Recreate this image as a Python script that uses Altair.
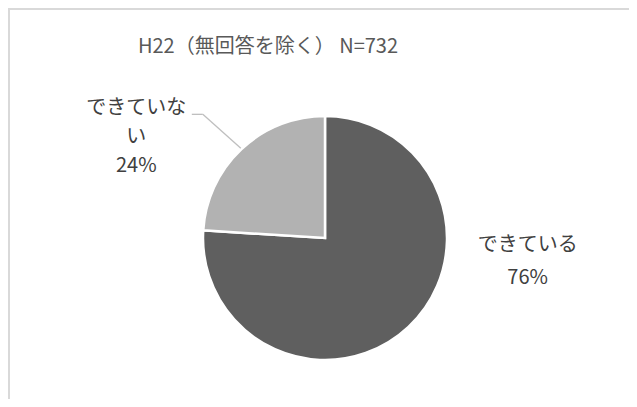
import altair as alt
import pandas as pd

# ---- data ----
categories = ["できている", "できていない"]
values = [76, 24]
label_texts = ["できている", "できていな\nい"]
orders = [0, 1]
colors = ["#5f5f5f", "#b2b2b2"]
title_text = "H22（無回答を除く） N=732"

df = pd.DataFrame({"category": categories, "value": values,
                   "label": label_texts, "order": orders})

# ---- layout / style ----
W, H = 621, 391
CX, CY, R = 317, 230, 122
FONT = "Noto Sans CJK JP"
LABEL_COLOR = "#404040"

base = alt.Chart(df).transform_joinaggregate(
    total="sum(value)"
).transform_calculate(
    text="datum.label + '\\n' + format(datum.value / datum.total, '.0%')"
)

pie = base.mark_arc(stroke="white", strokeWidth=2.5, radius=R).encode(
    theta=alt.Theta("value:Q", stack=True),
    color=alt.Color("category:N", scale=alt.Scale(domain=categories, range=colors), legend=None),
    order=alt.Order("order:Q"),
    x=alt.value(CX), y=alt.value(CY),
)


def label_layer(cat, dx, dy, lh):
    return base.mark_text(
        radius=150, dx=dx, dy=dy, lineBreak="\n", font=FONT, fontSize=20,
        color=LABEL_COLOR, baseline="middle", align="center", lineHeight=lh,
    ).encode(
        theta=alt.Theta("value:Q", stack=True),
        order=alt.Order("order:Q"),
        text=alt.condition(alt.datum.category == cat, alt.Text("text:N"), alt.value("")),
        x=alt.value(CX), y=alt.value(CY),
    )


lab1 = label_layer("できている", 100, -102, 33)
lab2 = label_layer("できていない", -86, -21, 29)

leader = base.transform_window(
    cum="sum(value)", sort=[alt.SortField("order")], frame=[None, 0]
).transform_calculate(
    mid="(datum.cum - datum.value / 2) / datum.total * 2 * PI",
).transform_calculate(
    ex=f"{CX} + {R + 1} * sin(datum.mid)",
    ey=f"{CY} - {R + 1} * cos(datum.mid)",
).transform_calculate(
    kx="datum.ex - 38", ky="datum.ey - 34",
).transform_calculate(
    hx="datum.kx - 11",
).transform_filter(alt.datum.category == "できていない")

seg1 = leader.mark_rule(color="#bfbfbf", strokeWidth=1.3).encode(
    x=alt.X("ex:Q", scale=None), y=alt.Y("ey:Q", scale=None),
    x2="kx:Q", y2="ky:Q",
)
seg2 = leader.mark_rule(color="#bfbfbf", strokeWidth=1.3).encode(
    x=alt.X("kx:Q", scale=None), y=alt.Y("ky:Q", scale=None),
    x2="hx:Q", y2="ky:Q",
)

one = alt.Chart(pd.DataFrame({"a": [0]}))
title = one.mark_text(font=FONT, fontSize=20, color="#595959",
                      align="center", baseline="middle").encode(
    x=alt.value(260), y=alt.value(39), text=alt.value(title_text))

border_left = one.mark_rule(color="#d9d9d9", strokeWidth=2).encode(
    x=alt.value(1), y=alt.value(0), y2=alt.value(H))
border_top = one.mark_rule(color="#d9d9d9", strokeWidth=2).encode(
    x=alt.value(0), x2=alt.value(W), y=alt.value(1))

chart = alt.layer(
    border_left, border_top, pie, seg1, seg2, lab1, lab2, title
).properties(
    width=W, height=H, padding=0,
    autosize=alt.AutoSizeParams(type="none"),
    background="white",
).configure_view(stroke=None)

chart.save("out.html", embed_options={"renderer": "svg", "actions": False})
